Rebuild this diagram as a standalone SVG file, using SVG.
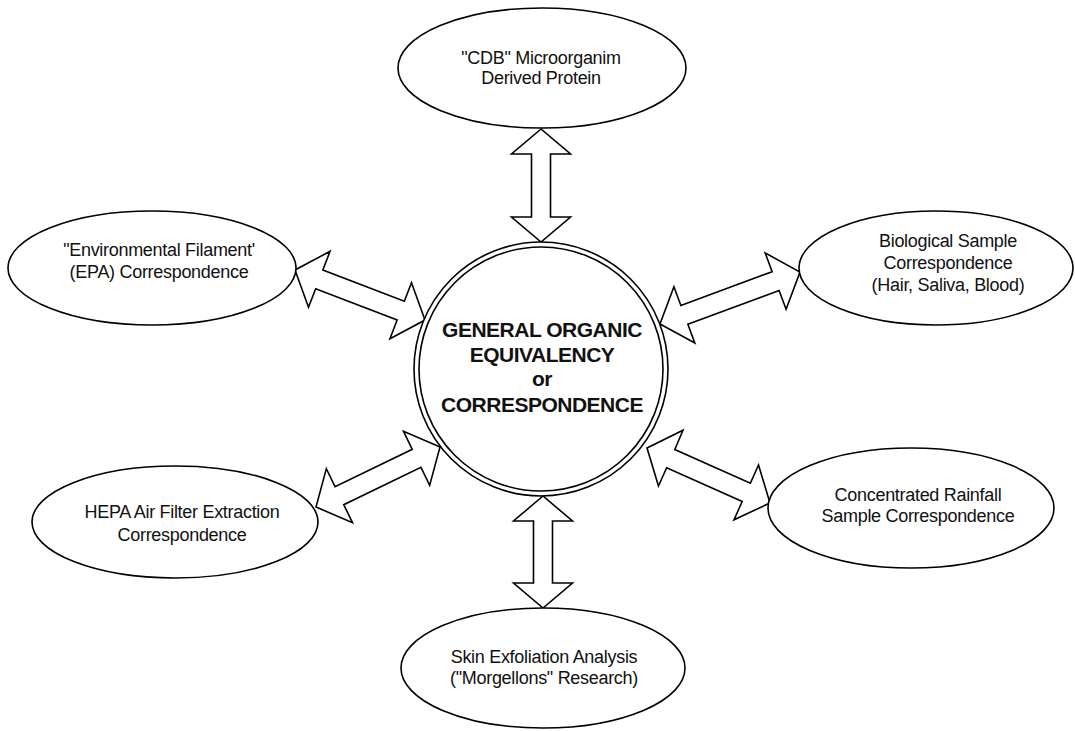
<svg xmlns="http://www.w3.org/2000/svg" width="1075" height="731" viewBox="0 0 1075 731">
<style>
.node{fill:#fff;stroke:#000;stroke-width:1.6}
.arrow{fill:#fff;stroke:#000;stroke-width:1.6;stroke-linejoin:miter}
.lbl{font-family:"Liberation Sans",Arial,sans-serif;font-size:18px;letter-spacing:-0.3px;fill:#111;text-anchor:middle}
.center{font-family:"Liberation Sans",Arial,sans-serif;font-size:21px;font-weight:bold;letter-spacing:-0.5px;fill:#111;text-anchor:middle}
</style>
<rect width="1075" height="731" fill="#fff"/>
<g id="connectors">
<polygon class="arrow" points="541,129 511.5,154 531.5,154 531.5,217 511.5,217 541,242 570.5,217 550.5,217 550.5,154 570.5,154"/>
<polygon class="arrow" points="543,496 513.5,521 533.5,521 533.5,583 513.5,583 543,608 572.5,583 552.5,583 552.5,521 572.5,521"/>
<polygon class="arrow" points="295,270 308.5,307.33 315.68,288.66 397.14,320 389.96,338.67 425,320 411.5,282.67 404.32,301.34 322.86,270 330.04,251.33"/>
<polygon class="arrow" points="660,324 694.82,343.07 687.85,324.32 779.11,290.42 786.08,309.17 800,272 765.18,252.93 772.15,271.68 680.89,305.58 673.92,286.83"/>
<polygon class="arrow" points="316,507 352.47,522.68 343.76,504.67 420.96,467.33 429.67,485.34 440,447 403.53,431.32 412.24,449.33 335.04,486.67 326.33,468.66"/>
<polygon class="arrow" points="647,448 658.48,486 666.65,467.74 742.19,501.52 734.02,519.78 770,503 758.52,465 750.35,483.26 674.81,449.48 682.98,430.22"/>
</g>
<g id="center-node">
<circle class="node" cx="541" cy="369" r="127"/>
<circle class="node" cx="541" cy="369" r="122"/>
<text class="center" x="542" y="337">GENERAL ORGANIC</text>
<text class="center" x="542" y="362">EQUIVALENCY</text>
<text class="center" x="542" y="386">or</text>
<text class="center" x="542" y="412">CORRESPONDENCE</text>
</g>
<g id="node-cdb">
<ellipse class="node" cx="542" cy="68" rx="144" ry="60"/>
<text class="lbl" x="541" y="64">"CDB" Microorganim</text>
<text class="lbl" x="541" y="84">Derived Protein</text>
</g>
<g id="node-epa">
<ellipse class="node" cx="152" cy="268" rx="144" ry="57"/>
<text class="lbl" x="159" y="256">"Environmental Filament'</text>
<text class="lbl" x="159" y="278">(EPA) Correspondence</text>
</g>
<g id="node-bio">
<ellipse class="node" cx="936" cy="268" rx="137" ry="57"/>
<text class="lbl" x="948" y="247">Biological Sample</text>
<text class="lbl" x="948" y="269">Correspondence</text>
<text class="lbl" x="948" y="291">(Hair, Saliva, Blood)</text>
</g>
<g id="node-hepa">
<ellipse class="node" cx="175" cy="522" rx="143" ry="56"/>
<text class="lbl" x="182" y="518">HEPA Air Filter Extraction</text>
<text class="lbl" x="182" y="541">Correspondence</text>
</g>
<g id="node-rain">
<ellipse class="node" cx="911" cy="508" rx="143" ry="60"/>
<text class="lbl" x="918" y="501">Concentrated Rainfall</text>
<text class="lbl" x="918" y="522">Sample Correspondence</text>
</g>
<g id="node-skin">
<ellipse class="node" cx="543" cy="668" rx="142" ry="60"/>
<text class="lbl" x="544" y="663">Skin Exfoliation Analysis</text>
<text class="lbl" x="544" y="684">("Morgellons" Research)</text>
</g>
</svg>
